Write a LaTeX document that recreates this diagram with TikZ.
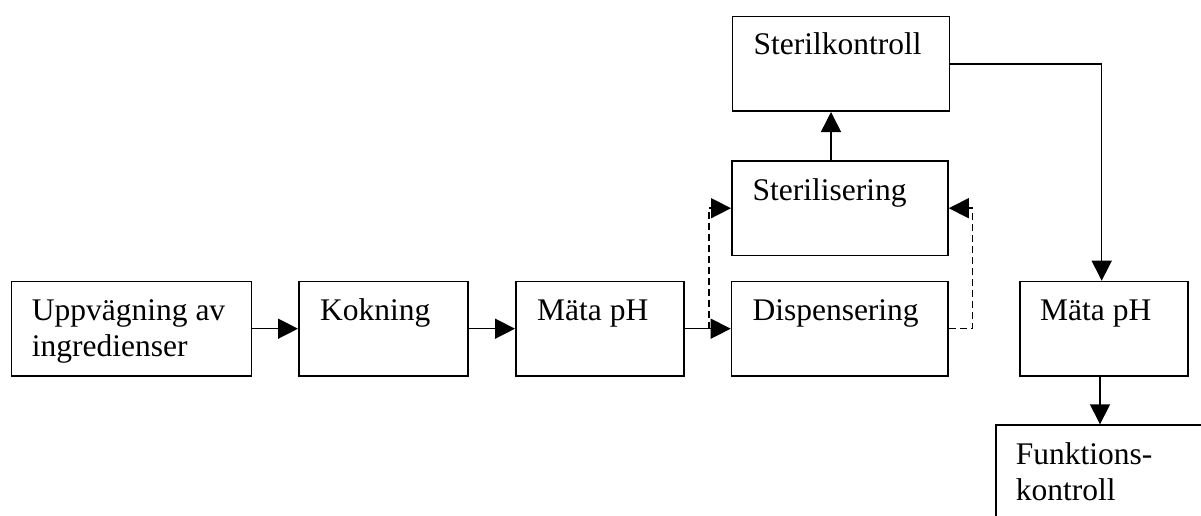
\documentclass[tikz,border=0pt]{standalone}
\usepackage{fontspec}
\setmainfont{Liberation Serif}
\usetikzlibrary{arrows.meta,calc}

\tikzset{
  box/.style={draw, line width=1.5pt, rectangle, anchor=north west, minimum height=94.5pt, inner sep=0pt},
  lbl/.style={anchor=base west, inner sep=0pt, align=left, font=\fontsize{31.5}{36.7}\selectfont},
  arr/.style={line width=1.5pt, -{Triangle[length=20pt,width=20pt]}},
  darr/.style={arr, dash pattern=on 7pt off 4pt},
}

\begin{document}
\begin{tikzpicture}[x=1pt, y=-1pt]
  \useasboundingbox (0,0) rectangle (1201,516);

  % process boxes
  \node[box, minimum width=240pt] (upp) at (10.7,280.7) {};
  \node[box, minimum width=169pt] (kok) at (298,280.7) {};
  \node[box, minimum width=168pt] (ph1) at (515,280.7) {};
  \node[box, minimum width=216.6pt] (disp) at (730.7,280.7) {};
  \node[box, minimum width=216.3pt] (ster) at (731,160.2) {};
  \node[box, minimum width=217pt] (sk) at (731.7,16) {};
  \node[box, minimum width=168.3pt] (ph2) at (1019,280.7) {};
  \node[box, minimum width=240pt, minimum height=120pt] (fk) at (995,424.3) {};

  % box texts (two-line labels sit on the baseline of their last line)
  \node[lbl] (tupp) at ($(upp.north west)+(21,76)$) {Uppvägning av\\ingredienser};
  \node[lbl] (tkok) at ($(kok.north west)+(22,39.3)$) {Kokning};
  \node[lbl] (tph1) at ($(ph1.north west)+(22,39.3)$) {Mäta pH};
  \node[lbl] (tdisp) at ($(disp.north west)+(21.6,39.3)$) {Dispensering};
  \node[lbl] (tster) at ($(ster.north west)+(21.3,40.5)$) {Sterilisering};
  \node[lbl] (tsk) at ($(sk.north west)+(21.6,39)$) {Sterilkontroll};
  \node[lbl] (tph2) at ($(ph2.north west)+(21,39.3)$) {Mäta pH};
  \node[lbl] (tfk) at ($(fk.north west)+(20.7,76.4)$) {Funktions-\\kontroll};

  % main flow
  \draw[arr] (upp.east) -- (kok.west);
  \draw[arr] (kok.east) -- (ph1.west);
  \draw[arr] (ph1.east) -- (disp.west);

  % dashed branches to sterilisation
  \coordinate (dl) at ($(ph1.east)+(24.3,0)$);
  \draw[darr] (dl) -- (dl |- ster.west) -- (ster.west);
  \coordinate (dr) at ($(disp.east)+(23.7,0)$);
  \draw[darr] (disp.east) -- (dr) -- (dr |- ster.east) -- (ster.east);

  % sterilisation to sterility check
  \draw[arr] ([xshift=100pt]ster.north west) -- ([xshift=99.3pt]sk.south west);

  % sterility check to pH measurement
  \coordinate (sr) at (1101.7,0);
  \draw[arr] (sk.east) -- (sr |- sk.east) -- (sr |- ph2.north);

  % pH measurement to function check
  \coordinate (pb) at (1100,0);
  \draw[arr] (pb |- ph2.south) -- (pb |- fk.north);
\end{tikzpicture}
\end{document}
